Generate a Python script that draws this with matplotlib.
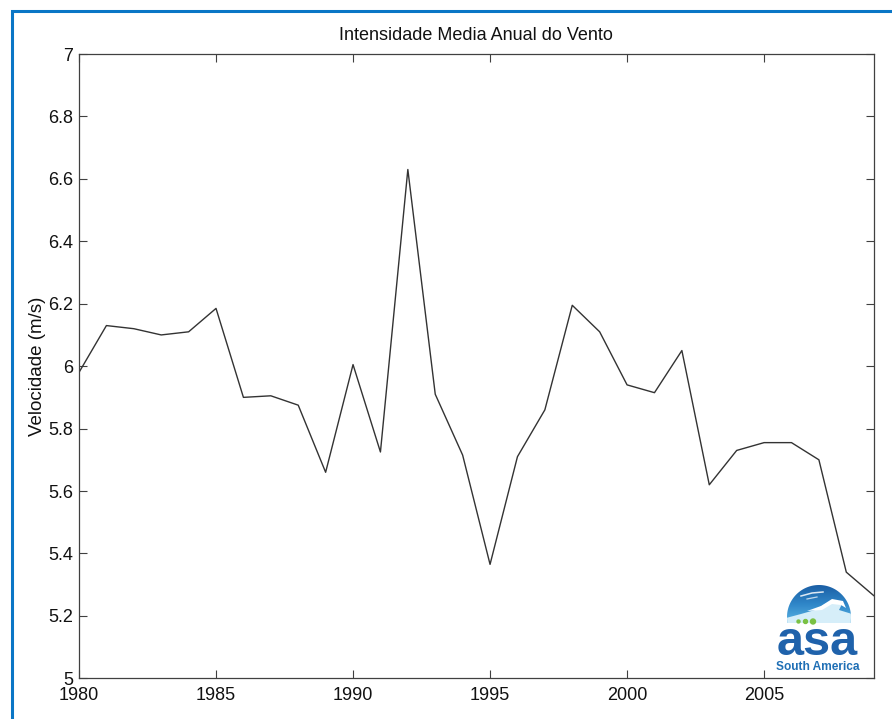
import matplotlib.pyplot as plt
import numpy as np
from matplotlib.patches import Circle, Polygon
from matplotlib.colors import LinearSegmentedColormap

# valores
anos = list(range(1980, 2010))
velocidade = [5.98, 6.13, 6.12, 6.10, 6.11, 6.185, 5.90, 5.905, 5.875, 5.66,
              6.005, 5.725, 6.63, 5.91, 5.715, 5.365, 5.71, 5.86, 6.195, 6.11,
              5.94, 5.915, 6.05, 5.62, 5.73, 5.755, 5.755, 5.70, 5.34, 5.265]
anos_ticks = [1980, 1985, 1990, 1995, 2000, 2005]
vel_ticks = [5, 5.2, 5.4, 5.6, 5.8, 6, 6.2, 6.4, 6.6, 6.8, 7]
vel_labels = ['5', '5.2', '5.4', '5.6', '5.8', '6', '6.2', '6.4', '6.6', '6.8', '7']

plt.rcParams['font.family'] = ['Liberation Sans', 'DejaVu Sans']

fig = plt.figure(figsize=(8.92, 7.19), dpi=100)
ax = fig.add_axes([79 / 892, 1 - 678.3 / 719, 794.7 / 892, 624.3 / 719])

ax.plot(anos, velocidade, color='#333333', linewidth=1.0)

ax.set_xlim(1980, 2009)
ax.set_ylim(5, 7)
ax.set_xticks(anos_ticks)
ax.set_yticks(vel_ticks)
ax.set_yticklabels(vel_labels)
ax.tick_params(direction='in', length=5.5, width=0.8, color='#404040',
               top=True, right=True, labelsize=13, labelcolor='#111111')
ax.tick_params(axis='x', pad=6.5)
ax.tick_params(axis='y', pad=4)
for s in ax.spines.values():
    s.set_color('#404040')
    s.set_linewidth(0.9)

ax.set_title('Intensidade Media Anual do Vento', fontsize=13, pad=10, color='#111111')
ax.set_ylabel('Velocidade (m/s)', fontsize=13.5, color='#111111')
ax.yaxis.set_label_coords(-0.042, 0.5)

# camada por cima: moldura azul e logotipo
ov = fig.add_axes([0, 0, 1, 1], zorder=5)
ov.patch.set_alpha(0)
ov.axis('off')

ov.plot([12, 12, 892], [719, 11, 11], color='#0a76c6', linewidth=2.2,
        solid_joinstyle='miter')

# cúpula do logo (círculo cortado na base)
cx, cy, r, base = 819, 617, 32, 623
a = np.arcsin((base - cy) / r)
t = np.linspace(-a, np.pi + a, 80)
dome_pts = np.column_stack([cx + r * np.cos(t), cy - r * np.sin(t)])
dome = Polygon(dome_pts, closed=True, transform=ov.transData)

grad = np.linspace(0, 1, 100).reshape(-1, 1)
cmap_logo = LinearSegmentedColormap.from_list('logo', ['#1b5fa5', '#2f86c8', '#5bb3e3'])
img = ov.imshow(grad, cmap=cmap_logo, extent=(cx - r, cx + r, base, cy - r),
                aspect='auto', origin='upper', zorder=6)
ov.set_xlim(0, 892)
ov.set_ylim(719, 0)
img.set_clip_path(dome)

lower = Polygon([(cx - 33, base), (cx - 33, base - 5), (cx - 18, base - 9),
                 (cx - 4, base - 13), (cx + 6, base - 19), (cx + 15, base - 22),
                 (cx + 23, base - 19), (cx + 20, base - 13), (cx + 33, base - 9),
                 (cx + 33, base)], closed=True, facecolor='#d6eef9',
                edgecolor='none', zorder=7)
ov.add_patch(lower)
lower.set_clip_path(dome)
crest = Polygon([(cx - 12, base - 12), (cx + 2, base - 17), (cx + 13, base - 24),
                 (cx + 24, base - 22), (cx + 27, base - 15), (cx + 22, base - 18),
                 (cx + 13, base - 19), (cx + 3, base - 13)], closed=True,
                facecolor='white', edgecolor='none', zorder=7)
ov.add_patch(crest)
ov.plot([cx - 18, cx - 7, cx + 4], [base - 27, base - 30, base - 31], color='white',
        linewidth=1.1, alpha=0.85, zorder=7)
ov.plot([cx - 12, cx - 2], [base - 24, base - 26], color='white',
        linewidth=0.9, alpha=0.7, zorder=7)
for x0, rr in [(798.5, 1.5), (805.5, 2.0), (813, 2.5)]:
    ov.add_patch(Circle((x0, base - 1.5), rr, color='#7ac143', zorder=8))

ov.text(cx - 1.5, 655, 'asa', fontsize=35, fontweight='bold', color='#1f62ab',
        ha='center', va='baseline', zorder=8)
ov.text(cx - 1, 669.5, 'South America', fontsize=8.6, fontweight='bold',
        color='#1f6fb5', ha='center', va='baseline', zorder=8)

fig.savefig('out.png', dpi=100)
